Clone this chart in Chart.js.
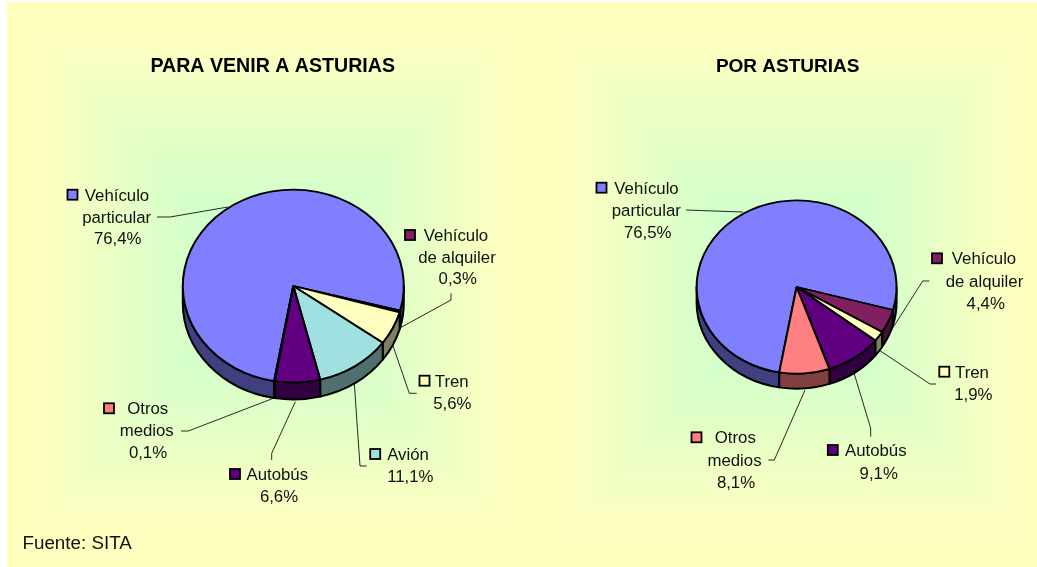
<!DOCTYPE html>
<html>
<head>
<meta charset="utf-8">
<script src="https://cdn.jsdelivr.net/npm/chart.js@4"></script>
<style>
html,body{margin:0;padding:0;background:#fff;width:1037px;height:567px;overflow:hidden}
canvas{position:absolute;top:0;display:block}
</style>
</head>
<body>
<canvas id="bg" width="1037" height="567" style="left:0"></canvas>
<canvas id="c1" width="533" height="567" style="left:6px"></canvas>
<canvas id="c2" width="498" height="567" style="left:539px"></canvas>
<script>
// ---- data ----
const leftTitle = 'PARA VENIR A ASTURIAS';
const leftCategories = ['Vehículo particular','Vehículo de alquiler','Tren','Avión','Autobús','Otros medios'];
const leftValues = [76.4,0.3,5.6,11.1,6.6,0.1];
const rightTitle = 'POR ASTURIAS';
const rightCategories = ['Vehículo particular','Vehículo de alquiler','Tren','Autobús','Otros medios'];
const rightValues = [76.5,4.4,1.9,9.1,8.1];
const sourceNote = 'Fuente: SITA';

// ---- styles ----
const sliceColors = {'Vehículo particular':'#8080FF','Vehículo de alquiler':'#802060','Tren':'#FFFFC0','Avión':'#A0E0E0','Autobús':'#600080','Otros medios':'#FF8080'};
const wallColors = {'Vehículo particular':'#404080','Vehículo de alquiler':'#401030','Tren':'#808060','Avión':'#507070','Autobús':'#300040','Otros medios':'#804040'};
const FONT = '"Liberation Sans", Arial, sans-serif';
const LABEL_PX = 16.8;

// ---- page layout of the annotations (page pixels) ----
const leftLabels = [
 {key:[67.5,194.7],xs:[117,116.7,117.7],ys:[194.7,216.7,238],leader:[[157,217],[170,217],[228,207]]},
 {key:[405,235],xs:[456,457,457.7],ys:[235,256.7,278.3],leader:[[451,293.3],[451,300],[399.3,328.3]]},
 {key:[419.5,380.7],xs:[451.7,452.3],ys:[380.7,402.7],leader:[[416.7,393.3],[409.3,393.3],[392.7,345]]},
 {key:[370.2,454],xs:[408,410.3],ys:[454,475.7],leader:[[366.7,466],[360,466],[354.3,383.3]]},
 {key:[230,474],xs:[277.3,279],ys:[474,495.7],leader:[[271.7,460],[271.7,453.3],[295.3,401.7]]},
 {key:[104,408.3],xs:[147.7,146.7,148],ys:[408.3,429.7,452],leader:[[181,431],[188.3,431],[273.3,398.3]]}
];
const rightLabels = [
 {key:[596.5,187.7],xs:[646.5,646.3,647.7],ys:[187.7,210,231.7],leader:[[686,210],[742.7,212]]},
 {key:[932,258.3],xs:[984,984.5,985.7],ys:[258.3,281,303.3],leader:[[929.3,281],[922.7,281],[888.3,335]]},
 {key:[939.3,371.7],xs:[972,973.3],ys:[371.7,394],leader:[[936,384],[930,384],[880,350.7]]},
 {key:[827.8,450],xs:[875.8,878.7],ys:[450,472.7],leader:[[870.7,436.7],[870.7,428.3],[854.3,374]]},
 {key:[691.5,437.3],xs:[735.3,734.5,736],ys:[437.3,460,481.7],leader:[[768.3,460],[774.3,460],[805,390]]}
];

// ---- panel background: rectangular centre-out gradient ----
(function(){
  const c = document.getElementById('bg').getContext('2d');
  const edge=[255,255,192], mid=[204,255,204];
  c.fillStyle='#fff'; c.fillRect(0,0,1037,567);
  c.fillStyle='rgb(255,255,192)'; c.fillRect(7,2,1030,565);
  const blocks=[{cx:272,cy:282,hx:235,hy:245},{cx:792,cy:285,hx:228,hy:245}];
  blocks.forEach(b=>{
    const n=60;
    for(let i=0;i<n;i++){
      const t=i/n, f=1-t, m=Math.min(1,(t+1/n)/0.8);
      const col=edge.map((e,k)=>Math.round(e+(mid[k]-e)*m));
      c.fillStyle=`rgb(${col[0]},${col[1]},${col[2]})`;
      c.fillRect(b.cx-b.hx*f,b.cy-b.hy*f,2*b.hx*f,2*b.hy*f);
    }
  });
})();

function makePie(id,canvasLeft,title,categories,values,labels,geo){
  const canvas=document.getElementById(id);
  const W=canvas.width,H=canvas.height,BW=2;
  const Rarea=geo.rx+BW/2;
  const lh=geo.titlePx*1.2, padTop=geo.titleY-lh/2;
  const fmt=v=>v.toFixed(1).replace('.',',');
  const pieExtras={
    id:'pieExtras',
    afterLayout(chart){
      // the title is centred on the plate, not on the pie, and may be wider than the pie
      const tb=chart.titleBlock;
      tb.left=geo.titleX-canvasLeft-200; tb.right=geo.titleX-canvasLeft+200;
    },
    beforeDatasetsDraw(chart){
      const ctx=chart.ctx, arcs=chart.getDatasetMeta(0).data;
      const a0=arcs[0], cx=a0.x, cy=a0.y, rx=a0.outerRadius, ry=rx*geo.squash;
      ctx.save();
      ctx.lineJoin='round'; ctx.strokeStyle='#000'; ctx.lineWidth=BW;
      arcs.forEach((arc,i)=>{
        for(let k=-1;k<=2;k++){
          const lo=Math.max(arc.startAngle,2*Math.PI*k), hi=Math.min(arc.endAngle,2*Math.PI*k+Math.PI);
          if(hi<=lo) continue;
          ctx.beginPath();
          ctx.ellipse(cx,cy,rx,ry,0,lo,hi);
          ctx.ellipse(cx,cy+geo.depth,rx,ry,0,hi,lo,true);
          ctx.closePath();
          ctx.fillStyle=wallColors[categories[i]];
          ctx.fill(); ctx.stroke();
        }
      });
      ctx.restore();
      ctx.save();
      ctx.translate(cx,cy); ctx.scale(1,geo.squash); ctx.translate(-cx,-cy);
    },
    afterDatasetsDraw(chart){
      chart.ctx.restore();
      const ctx=chart.ctx;
      ctx.save();
      ctx.translate(-canvasLeft,0);
      ctx.strokeStyle='#111'; ctx.lineWidth=0.9;
      labels.forEach(l=>{
        ctx.beginPath();
        l.leader.forEach((p,i)=>i?ctx.lineTo(p[0],p[1]):ctx.moveTo(p[0],p[1]));
        ctx.stroke();
      });
      ctx.font=LABEL_PX+'px '+FONT; ctx.textAlign='center'; ctx.textBaseline='alphabetic';
      labels.forEach((l,i)=>{
        const name=categories[i], sp=name.indexOf(' ');
        const lines=(sp<0?[name]:[name.slice(0,sp),name.slice(sp+1)]).concat(fmt(values[i])+'%');
        ctx.fillStyle='#111';
        lines.forEach((t,j)=>ctx.fillText(t,l.xs[j],l.ys[j]+LABEL_PX*0.36));
        ctx.fillStyle=sliceColors[name]; ctx.strokeStyle='#000'; ctx.lineWidth=1.8;
        ctx.fillRect(l.key[0],l.key[1]-5,10,10); ctx.strokeRect(l.key[0],l.key[1]-5,10,10);
      });
      if(geo.note){
        ctx.fillStyle='#111'; ctx.textAlign='left';
        ctx.font=geo.notePx+'px '+FONT;
        ctx.fillText(geo.note,22.5,548.5);
      }
      ctx.restore();
    }
  };
  return new Chart(canvas,{
    type:'pie',
    data:{labels:categories,datasets:[{
      data:values,
      backgroundColor:categories.map(c=>sliceColors[c]),
      borderColor:'#000',borderWidth:BW,borderAlign:'center',hoverOffset:0
    }]},
    options:{
      responsive:false,animation:false,rotation:geo.rotation,
      layout:{padding:{left:geo.cx-canvasLeft-Rarea,right:W-(geo.cx-canvasLeft)-Rarea,top:0,bottom:H-(geo.cy+Rarea)}},
      events:[],
      plugins:{
        legend:{display:false},tooltip:{enabled:false},
        title:{display:true,text:title,color:'#000',font:{family:FONT,size:geo.titlePx,weight:'bold',lineHeight:1.2},
          padding:{top:padTop,bottom:geo.cy-Rarea-padTop-lh}}
      }
    },
    plugins:[pieExtras]
  });
}
makePie('c1',6,leftTitle,leftCategories,leftValues,leftLabels,{cx:293.3,cy:286,rx:110.5,squash:0.873,depth:17,rotation:190,titlePx:19.6,titleX:272.7,titleY:66.7,note:sourceNote,notePx:18.8});
makePie('c2',539,rightTitle,rightCategories,rightValues,rightLabels,{cx:796.6,cy:287,rx:100,squash:0.867,depth:15,rotation:190,titlePx:19,titleX:787.7,titleY:66.7});
</script>
</body>
</html>
